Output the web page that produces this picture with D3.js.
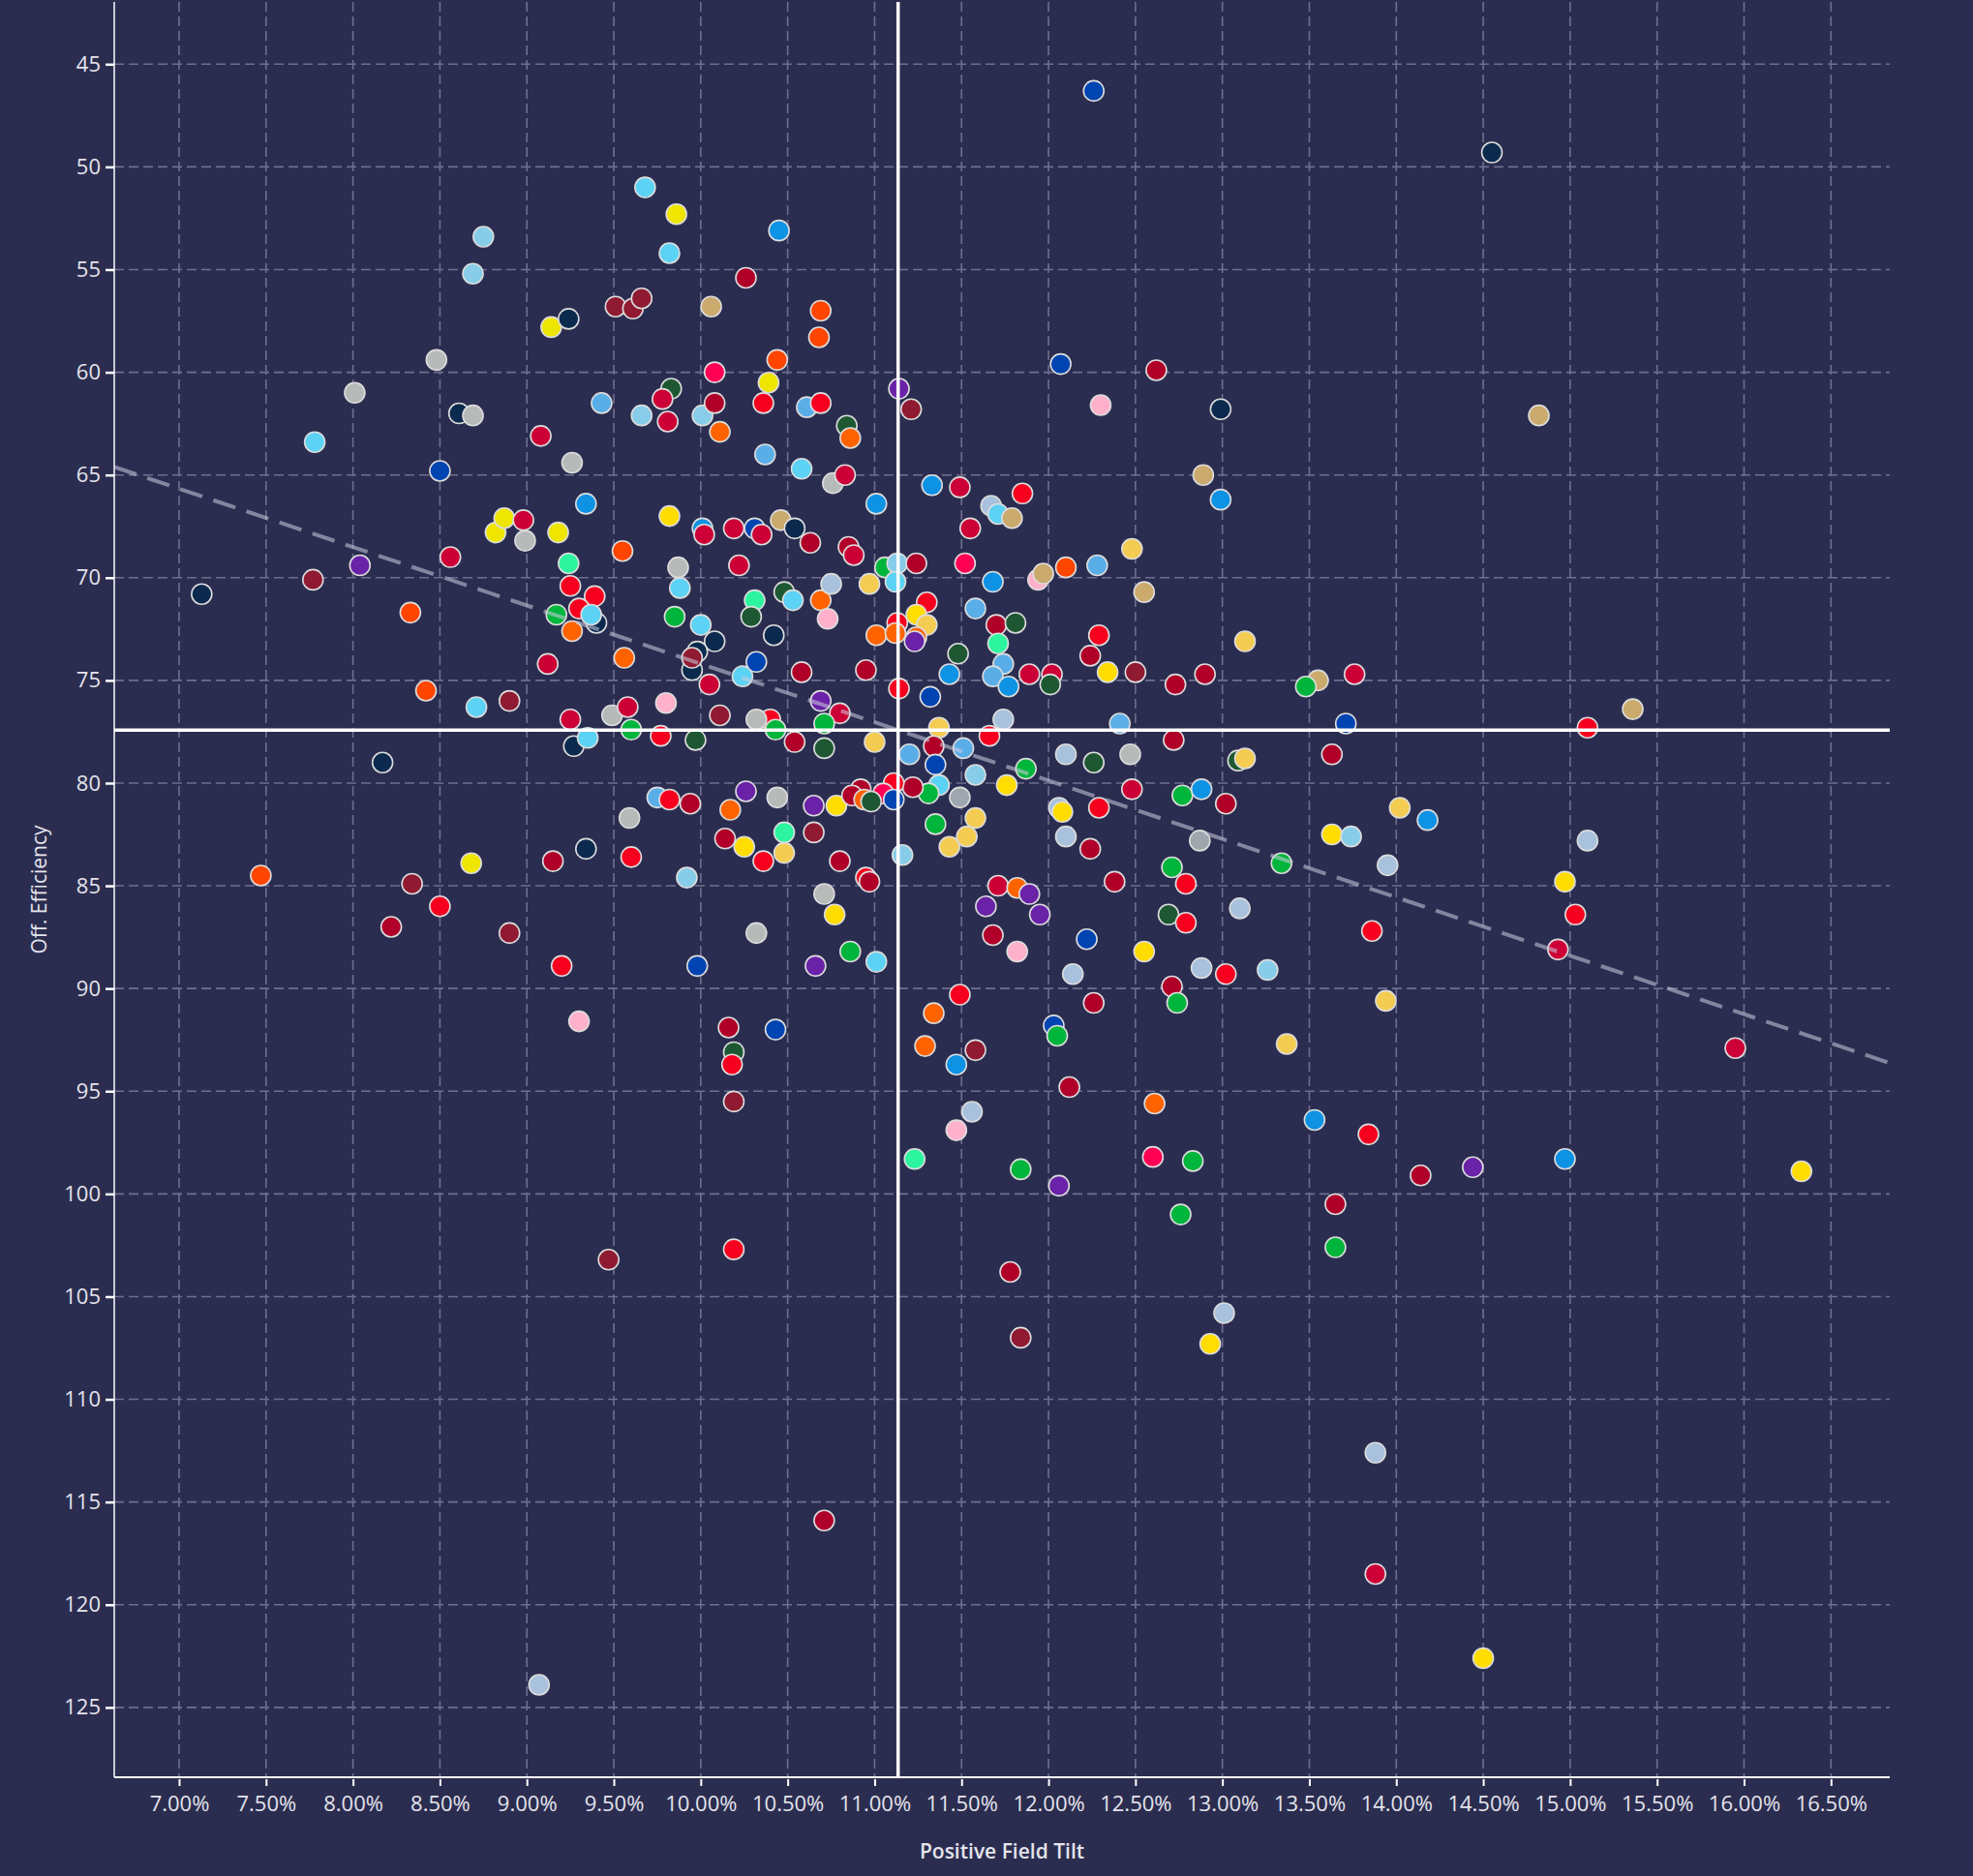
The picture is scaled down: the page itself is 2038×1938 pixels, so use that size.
<!DOCTYPE html>
<html>
<head>
<meta charset="utf-8">
<script src="https://cdn.jsdelivr.net/npm/d3@7"></script>
<style>
  html, body { margin: 0; padding: 0; background: #2b2d50; }
  svg { display: block; }
</style>
</head>
<body>
<svg id="chart" width="2038" height="1938"></svg>
<script>
// team key for each dot (drives the colour)
const teamKeys = ["LB","SK","LBL","YE","GO","LGO","NV","MA","CR","DR","RE","HP","OR","OA","TN","GR","SG","BL","RB","DG","GN","MT","PK","PU","ST"];
const teamColors = ["#87cdea","#5cd2f5","#5aaee8","#eee600","#ffdd00","#f5cc52","#0c2a4e","#8f1a32","#cc0037","#b00029","#f7001f","#ff0055","#ff4500","#ff6300","#cbaa6e","#b6bab9","#9ea6ae","#0e92e4","#0044b2","#1d5833","#00b53c","#2df59f","#ffb1cc","#6a22a8","#a8c1dc"];

// Positive Field Tilt (%)
const tilt = [
  7.13,7.47,7.78,7.77,8.01,8.04,8.17,8.22,8.33,8.34,8.42,8.48,8.50,8.50,8.56,8.61,8.69,8.69,8.75,8.71,
  8.68,8.82,8.87,8.90,8.90,8.98,8.99,9.08,9.12,9.14,9.24,9.18,9.15,9.20,9.17,9.24,9.25,9.39,9.30,9.26,
  9.40,9.37,9.26,9.34,9.43,9.07,9.30,9.25,9.34,9.27,9.35,9.49,9.58,9.60,9.80,9.77,9.97,9.95,10.05,10.24,
  10.32,10.58,10.69,10.80,10.71,10.71,10.54,10.40,10.32,10.43,10.11,9.75,9.82,9.94,9.59,9.60,9.92,9.98,10.17,10.26,
  10.44,10.14,10.25,10.36,10.48,10.48,10.65,10.78,10.65,10.80,10.71,10.77,10.32,10.66,10.16,10.43,10.19,10.18,10.19,10.86,
  9.68,9.86,9.82,10.45,10.26,9.51,9.61,9.66,10.06,10.69,10.68,10.44,10.08,10.39,10.36,10.61,10.69,9.83,9.78,9.81,
  9.66,10.01,10.08,10.11,10.37,10.58,10.76,10.83,9.82,10.01,10.02,10.19,10.31,10.35,10.46,10.54,10.63,9.55,9.87,9.88,
  10.22,9.85,10.00,10.08,9.98,9.95,10.31,10.29,10.42,10.48,10.53,10.69,10.75,10.73,9.56,10.84,10.86,
  11.14,11.21,12.07,12.62,12.30,12.99,11.01,11.33,11.49,11.85,11.67,11.71,11.79,11.55,12.89,12.99,10.85,10.88,11.06,11.13,
  11.12,10.97,11.24,11.52,11.68,11.94,11.97,12.10,12.28,12.48,12.55,11.30,11.24,11.30,11.13,11.01,11.12,11.24,11.23,11.58,
  11.70,11.81,11.71,11.74,11.48,10.95,12.29,12.24,13.13,12.34,12.50,11.89,12.02,11.43,11.68,12.90,12.73,
  11.14,11.77,12.01,11.32,11.74,12.41,11.37,11.00,11.20,11.34,11.35,11.51,11.66,11.58,12.10,12.26,12.47,12.72,13.09,13.13,
  11.87,11.76,11.37,11.31,11.49,11.22,11.11,11.05,11.11,10.92,10.87,10.94,10.98,12.48,12.77,12.88,13.02,11.35,11.58,11.53,
  11.43,11.16,12.06,12.08,12.29,12.10,12.24,12.87,10.95,10.97,11.01,11.71,11.82,11.89,11.64,11.95,11.68,11.82,12.38,12.22,
  12.14,12.55,12.71,12.79,12.69,12.79,13.10,12.88,13.02,13.26,12.71,12.74,11.49,11.34,12.26,12.03,12.05,11.29,11.58,11.47,
  12.12,12.61,11.56,11.47,12.60,
  12.26,14.55,
  14.82,15.36,15.10,13.76,13.55,13.48,13.71,13.63,14.02,14.18,13.63,13.74,15.10,13.34,13.95,14.97,15.03,14.93,13.86,13.94,
  13.37,13.53,13.84,14.14,14.44,14.97,15.95,16.33,13.65,13.65,13.88,13.88,14.50,13.01,12.93,12.83,12.76,12.06,11.84,11.78,
  11.84,11.23,10.71,10.19,9.47
];

// Off. Efficiency
const efficiency = [
  70.8,84.5,63.4,70.1,61.0,69.4,79.0,87.0,71.7,84.9,75.5,59.4,86.0,64.8,69.0,62.0,62.1,55.2,53.4,76.3,
  83.9,67.8,67.1,76.0,87.3,67.2,68.2,63.1,74.2,57.8,57.4,67.8,83.8,88.9,71.8,69.3,70.4,70.9,71.5,72.6,
  72.2,71.8,64.4,66.4,61.5,123.9,91.6,76.9,83.2,78.2,77.8,76.7,76.3,77.4,76.1,77.7,77.9,74.5,75.2,74.8,
  74.1,74.6,76.0,76.6,77.1,78.3,78.0,76.9,76.9,77.4,76.7,80.7,80.8,81.0,81.7,83.6,84.6,88.9,81.3,80.4,
  80.7,82.7,83.1,83.8,82.4,83.4,81.1,81.1,82.4,83.8,85.4,86.4,87.3,88.9,91.9,92.0,93.1,93.7,95.5,88.2,
  51.0,52.3,54.2,53.1,55.4,56.8,56.9,56.4,56.8,57.0,58.3,59.4,60.0,60.5,61.5,61.7,61.5,60.8,61.3,62.4,
  62.1,62.1,61.5,62.9,64.0,64.7,65.4,65.0,67.0,67.6,67.9,67.6,67.6,67.9,67.2,67.6,68.3,68.7,69.5,70.5,
  69.4,71.9,72.3,73.1,73.6,73.9,71.1,71.9,72.8,70.7,71.1,71.1,70.3,72.0,73.9,62.6,63.2,
  60.8,61.8,59.6,59.9,61.6,61.8,66.4,65.5,65.6,65.9,66.5,66.9,67.1,67.6,65.0,66.2,68.5,68.9,69.5,69.3,
  70.2,70.3,69.3,69.3,70.2,70.1,69.8,69.5,69.4,68.6,70.7,71.2,71.8,72.3,72.2,72.8,72.7,72.9,73.1,71.5,
  72.3,72.2,73.2,74.2,73.7,74.5,72.8,73.8,73.1,74.6,74.6,74.7,74.7,74.7,74.8,74.7,75.2,
  75.4,75.3,75.2,75.8,76.9,77.1,77.3,78.0,78.6,78.2,79.1,78.3,77.7,79.6,78.6,79.0,78.6,77.9,78.9,78.8,
  79.3,80.1,80.1,80.5,80.7,80.2,80.0,80.5,80.8,80.3,80.6,80.8,80.9,80.3,80.6,80.3,81.0,82.0,81.7,82.6,
  83.1,83.5,81.2,81.4,81.2,82.6,83.2,82.8,84.6,84.8,88.7,85.0,85.1,85.4,86.0,86.4,87.4,88.2,84.8,87.6,
  89.3,88.2,84.1,84.9,86.4,86.8,86.1,89.0,89.3,89.1,89.9,90.7,90.3,91.2,90.7,91.8,92.3,92.8,93.0,93.7,
  94.8,95.6,96.0,96.9,98.2,
  46.3,49.3,
  62.1,76.4,77.3,74.7,75.0,75.3,77.1,78.6,81.2,81.8,82.5,82.6,82.8,83.9,84.0,84.8,86.4,88.1,87.2,90.6,
  92.7,96.4,97.1,99.1,98.7,98.3,92.9,98.9,100.5,102.6,112.6,118.5,122.6,105.8,107.3,98.4,101.0,99.6,98.8,103.8,
  107.0,98.3,115.9,102.7,103.2
];

const team = [
  "NV","OR","SK","MA","GR","PU","NV","DR","OR","MA","OR","GR","RE","RB","CR","NV","GR","LB","LB","SK",
  "YE","YE","YE","MA","MA","CR","GR","CR","CR","YE","NV","YE","DR","RE","GN","MT","RE","RE","RE","OA",
  "NV","SK","GR","BL","LBL","ST","PK","CR","NV","NV","SK","GR","CR","GN","PK","RE","DG","NV","CR","SK",
  "RB","DR","PU","CR","GN","DG","DR","RE","GR","GN","MA","LBL","RE","DR","GR","RE","LB","RB","OA","PU",
  "GR","DR","GO","RE","MT","LGO","PU","GO","MA","DR","GR","GO","GR","PU","DR","RB","DG","RE","MA","GN",
  "SK","YE","SK","BL","DR","MA","MA","MA","TN","OR","OR","OR","HP","YE","RE","LBL","RE","DG","CR","CR",
  "LB","LB","DR","OA","LBL","SK","GR","CR","GO","BL","CR","CR","RB","CR","TN","NV","DR","OR","GR","SK",
  "CR","GN","SK","NV","NV","MA","MT","DG","NV","DG","SK","OA","ST","PK","OA","DG","OA",
  "PU","MA","RB","DR","PK","NV","BL","BL","CR","RE","ST","SK","TN","CR","TN","BL","DR","CR","GN","LB",
  "SK","LGO","DR","HP","BL","PK","TN","OR","LBL","LGO","TN","RE","GO","LGO","RE","OA","OA","OA","PU","LBL",
  "DR","DG","MT","LBL","DG","DR","RE","DR","LGO","GO","MA","CR","CR","BL","LBL","DR","DR",
  "RE","BL","DG","RB","ST","LBL","LGO","LGO","LBL","DR","RB","LBL","RE","LB","ST","DG","GR","DR","DG","LGO",
  "GN","GO","SK","GN","SG","DR","RE","HP","RB","DR","DR","OA","DG","CR","GN","BL","DR","GN","LGO","LGO",
  "LGO","LB","ST","GO","RE","ST","DR","SG","RE","DR","SK","CR","OA","PU","PU","PU","DR","PK","DR","RB",
  "ST","GO","GN","RE","DG","RE","ST","ST","RE","LB","DR","GN","RE","OA","DR","RB","GN","OA","MA","BL",
  "DR","OA","ST","PK","HP",
  "RB","NV",
  "TN","TN","RE","CR","TN","GN","RB","DR","LGO","BL","GO","LB","ST","GN","ST","GO","RE","CR","RE","LGO",
  "LGO","BL","RE","DR","PU","BL","CR","GO","DR","GN","ST","CR","GO","ST","GO","GN","GN","PU","GN","DR",
  "MA","MT","DR","RE","MA"
];

// reference lines
const avgTilt = 11.135;
const avgEfficiency = 77.42;
const trendSlope = 2.842;

const xTicks = d3.range(7, 16.51, 0.5);
const yTicks = d3.range(45, 126, 5);

const svg = d3.select("#chart");
const plotLeft = 118, plotRight = 1952, plotTop = 2, plotBottom = 1836;

const xscale = d3.scaleLinear().domain([6.627, 16.838]).range([plotLeft, plotRight]);
const yscale = d3.scaleLinear().domain([41.97, 128.40]).range([plotTop, plotBottom]);
const colorScale = d3.scaleOrdinal().domain(teamKeys).range(teamColors);

const labelFont = "'Open Sans', 'Noto Sans', sans-serif";

// gridlines
svg.append("g")
  .selectAll("line")
  .data(xTicks)
  .join("line")
  .attr("x1", d => xscale(d)).attr("x2", d => xscale(d))
  .attr("y1", plotTop).attr("y2", plotBottom)
  .attr("stroke", "#6f6e8e").attr("stroke-width", 1.6)
  .attr("stroke-dasharray", "10,5");

svg.append("g")
  .selectAll("line")
  .data(yTicks)
  .join("line")
  .attr("x1", plotLeft).attr("x2", plotRight)
  .attr("y1", d => yscale(d)).attr("y2", d => yscale(d))
  .attr("stroke", "#6f6e8e").attr("stroke-width", 1.6)
  .attr("stroke-dasharray", "10,5");

// axes
let xaxis = d3.axisBottom(xscale)
  .tickValues(xTicks)
  .tickSize(9)
  .tickPadding(10)
  .tickFormat(d => d3.format(".2f")(d) + "%");
let yaxis = d3.axisLeft(yscale)
  .tickValues(yTicks)
  .tickSize(9)
  .tickPadding(5);

let gx = svg.append("g")
  .attr("transform", `translate(0, ${plotBottom})`)
  .call(xaxis);
gx.select(".domain").remove();
gx.selectAll(".tick line").attr("stroke", "#ffffff").attr("stroke-width", 2).attr("y1", 2);
gx.selectAll("text")
  .attr("fill", "#e4e4ec")
  .style("font-family", labelFont)
  .style("font-size", "22px");

let gy = svg.append("g")
  .attr("transform", `translate(${plotLeft}, 0)`)
  .call(yaxis);
gy.select(".domain").remove();
gy.selectAll(".tick line").attr("stroke", "#ffffff").attr("stroke-width", 2.5);
gy.selectAll("text")
  .attr("fill", "#e4e4ec")
  .style("font-family", labelFont)
  .style("font-size", "22px");

// axis lines
svg.append("line")
  .attr("x1", plotLeft).attr("x2", plotLeft)
  .attr("y1", plotTop).attr("y2", plotBottom)
  .attr("stroke", "#ffffff").attr("stroke-width", 1.5);
svg.append("line")
  .attr("x1", plotLeft).attr("x2", plotRight)
  .attr("y1", plotBottom).attr("y2", plotBottom)
  .attr("stroke", "#ffffff").attr("stroke-width", 2);

// dots
const points = tilt.map((t, i) => ({ x: t, y: efficiency[i], team: team[i] }));
svg.append("g")
  .selectAll("circle")
  .data(points)
  .join("circle")
  .attr("cx", d => xscale(d.x))
  .attr("cy", d => yscale(d.y))
  .attr("r", 10.5)
  .attr("fill", d => colorScale(d.team))
  .attr("stroke", "#dcdcdc")
  .attr("stroke-width", 1.6);

// trend line
const trendX = xscale.domain();
svg.append("line")
  .attr("x1", xscale(trendX[0]))
  .attr("y1", yscale(avgEfficiency + trendSlope * (trendX[0] - avgTilt)))
  .attr("x2", xscale(trendX[1]))
  .attr("y2", yscale(avgEfficiency + trendSlope * (trendX[1] - avgTilt)))
  .attr("stroke", "rgba(205,205,222,0.55)")
  .attr("stroke-width", 4)
  .attr("stroke-dasharray", "24,12");

// average lines
svg.append("line")
  .attr("x1", xscale(avgTilt)).attr("x2", xscale(avgTilt))
  .attr("y1", plotTop).attr("y2", plotBottom)
  .attr("stroke", "#ffffff").attr("stroke-width", 3.5);
svg.append("line")
  .attr("x1", plotLeft).attr("x2", plotRight)
  .attr("y1", yscale(avgEfficiency)).attr("y2", yscale(avgEfficiency))
  .attr("stroke", "#ffffff").attr("stroke-width", 3.5);

// titles
svg.append("text")
  .attr("x", (plotLeft + plotRight) / 2)
  .attr("y", 1920)
  .attr("text-anchor", "middle")
  .attr("fill", "#e4e4ec")
  .style("font-family", labelFont)
  .style("font-weight", 600)
  .style("font-size", "21px")
  .text("Positive Field Tilt");

svg.append("text")
  .attr("transform", `translate(48, ${(plotTop + plotBottom) / 2}) rotate(-90)`)
  .attr("text-anchor", "middle")
  .attr("fill", "#e4e4ec")
  .style("font-family", labelFont)
  .style("font-size", "21px")
  .text("Off. Efficiency");
</script>
</body>
</html>
